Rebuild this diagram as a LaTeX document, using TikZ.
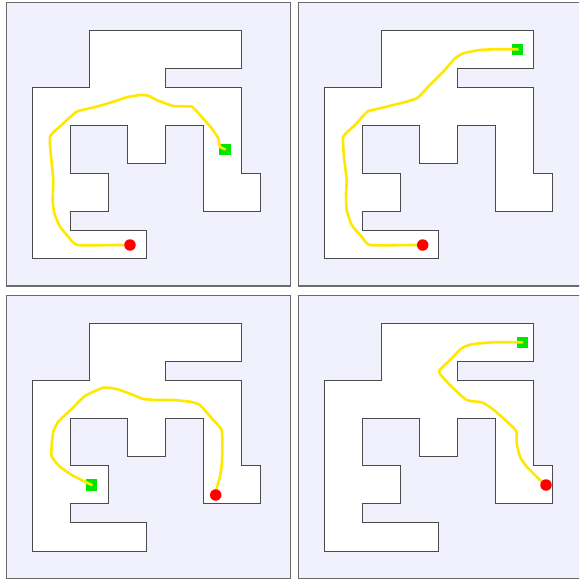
\documentclass[tikz,border=0pt]{standalone}
\definecolor{panelbg}{HTML}{F1F1FD}
\definecolor{panelline}{HTML}{6B6B6B}
\definecolor{wallline}{HTML}{4A4A4A}
\definecolor{routeyellow}{HTML}{FFE800}
\definecolor{goalgreen}{HTML}{00E600}
\definecolor{startred}{HTML}{FF0000}
\tikzset{
  panelframe/.style={draw=panelline, fill=panelbg, line width=1.2pt},
  mazewall/.style={draw=wallline, fill=white, line width=0.9pt, line join=miter},
  route/.style={draw=routeyellow, line width=2.6pt, line join=round, line cap=round},
  startdot/.style={circle, fill=startred, inner sep=0pt, minimum size=11.5pt},
  goalbox/.style={rectangle, fill=goalgreen, inner sep=0pt, minimum size=11.5pt},
}
\newcommand\mazepanel[2]{%
  \draw[panelframe] (#1+6.3,#2+2.7) rectangle (#1+290.3,#2+286);
  \begin{scope}[xshift={#1pt+32pt}, yshift={-#2pt-30.7pt}, x=19pt, y=-19pt]
    \draw[mazewall] (3,0) -- (11,0) -- (11,2) -- (7,2) -- (7,3) -- (11,3) -- (11,7.5)
      -- (12,7.5) -- (12,9.5) -- (9,9.5) -- (9,5) -- (7,5) -- (7,7) -- (5,7) -- (5,5)
      -- (2,5) -- (2,7.5) -- (4,7.5) -- (4,9.5) -- (2,9.5) -- (2,10.5) -- (6,10.5)
      -- (6,12) -- (0,12) -- (0,3) -- (3,3) -- cycle;
  \end{scope}}
\begin{document}
\begin{tikzpicture}[x=1pt, y=-1pt]
\useasboundingbox (0,0) rectangle (579,580);
\clip (0,0) rectangle (579,580);
\mazepanel{0}{0}
\mazepanel{292.3}{0}
\mazepanel{0}{292.6}
\mazepanel{292.3}{292.6}
% panel 1
\coordinate (s1) at (130,245);
\coordinate (g1) at (225,149.3);
\node[goalbox] (G1) at (g1) {};
\draw[route] plot[smooth, tension=0.3] coordinates {(s1) (118,245) (77.3,245) (68.3,236.7) (60,226.7) (54.3,213.3) (52.7,200) (53.3,180) (51.7,163.3) (50,136.7) (61.7,125) (76.7,111.7) (96.7,106.7) (113.3,101.7) (126.7,97.3) (140,95) (148.3,95.7) (156.7,100) (173.3,106) (191.7,106.7) (200,115) (211.7,128.3) (218.3,138.3) (220,146.7) (g1)};
\node[startdot] (S1) at (s1) {};
% panel 2
\coordinate (s2) at (422.7,245);
\coordinate (g2) at (517.7,49.3);
\node[goalbox] (G2) at (g2) {};
\draw[route] plot[smooth, tension=0.3] coordinates {(s2) (411.7,245) (370,245) (361.7,236.7) (351.7,225) (346.7,210) (346,193.3) (346.7,180) (344,156.7) (343.3,136.7) (355,125) (367.3,111.7) (380,108.3) (400,103.3) (416.7,98.3) (430,85) (443.3,71.7) (455,58.3) (463.3,53.3) (480,50) (496.7,49.3) (g2)};
\node[startdot] (S2) at (s2) {};
% panel 3
\coordinate (s3) at (215.7,495);
\coordinate (g3) at (91.7,485);
\node[goalbox] (G3) at (g3) {};
\draw[route] plot[smooth, tension=0.3] coordinates {(s3) (216.7,488.3) (220,476.7) (221.7,465) (222.3,451.7) (221.7,430) (211.7,418.3) (200,405) (190,401.7) (173.3,400) (156.7,400) (143.3,399) (133.3,395) (116.7,389) (103.3,387.7) (85,396) (71.7,409) (58.3,421.7) (53.3,431.7) (51.7,445) (51.7,456.7) (60,466.7) (71.7,475) (85,481.7) (g3)};
\node[startdot] (S3) at (s3) {};
% panel 4
\coordinate (s4) at (546,485);
\coordinate (g4) at (522.3,342.3);
\node[goalbox] (G4) at (g4) {};
\draw[route] plot[smooth, tension=0.3] coordinates {(s4) (540,480) (526.7,466.7) (520,456.7) (516.7,443.3) (516,430.7) (503.3,418.3) (491.7,408.3) (481.7,402.3) (466.7,400) (450,385) (439,371.7) (450,360) (461.7,348.3) (471.7,344.3) (493.3,342.3) (g4)};
\node[startdot] (S4) at (s4) {};
\end{tikzpicture}
\end{document}
